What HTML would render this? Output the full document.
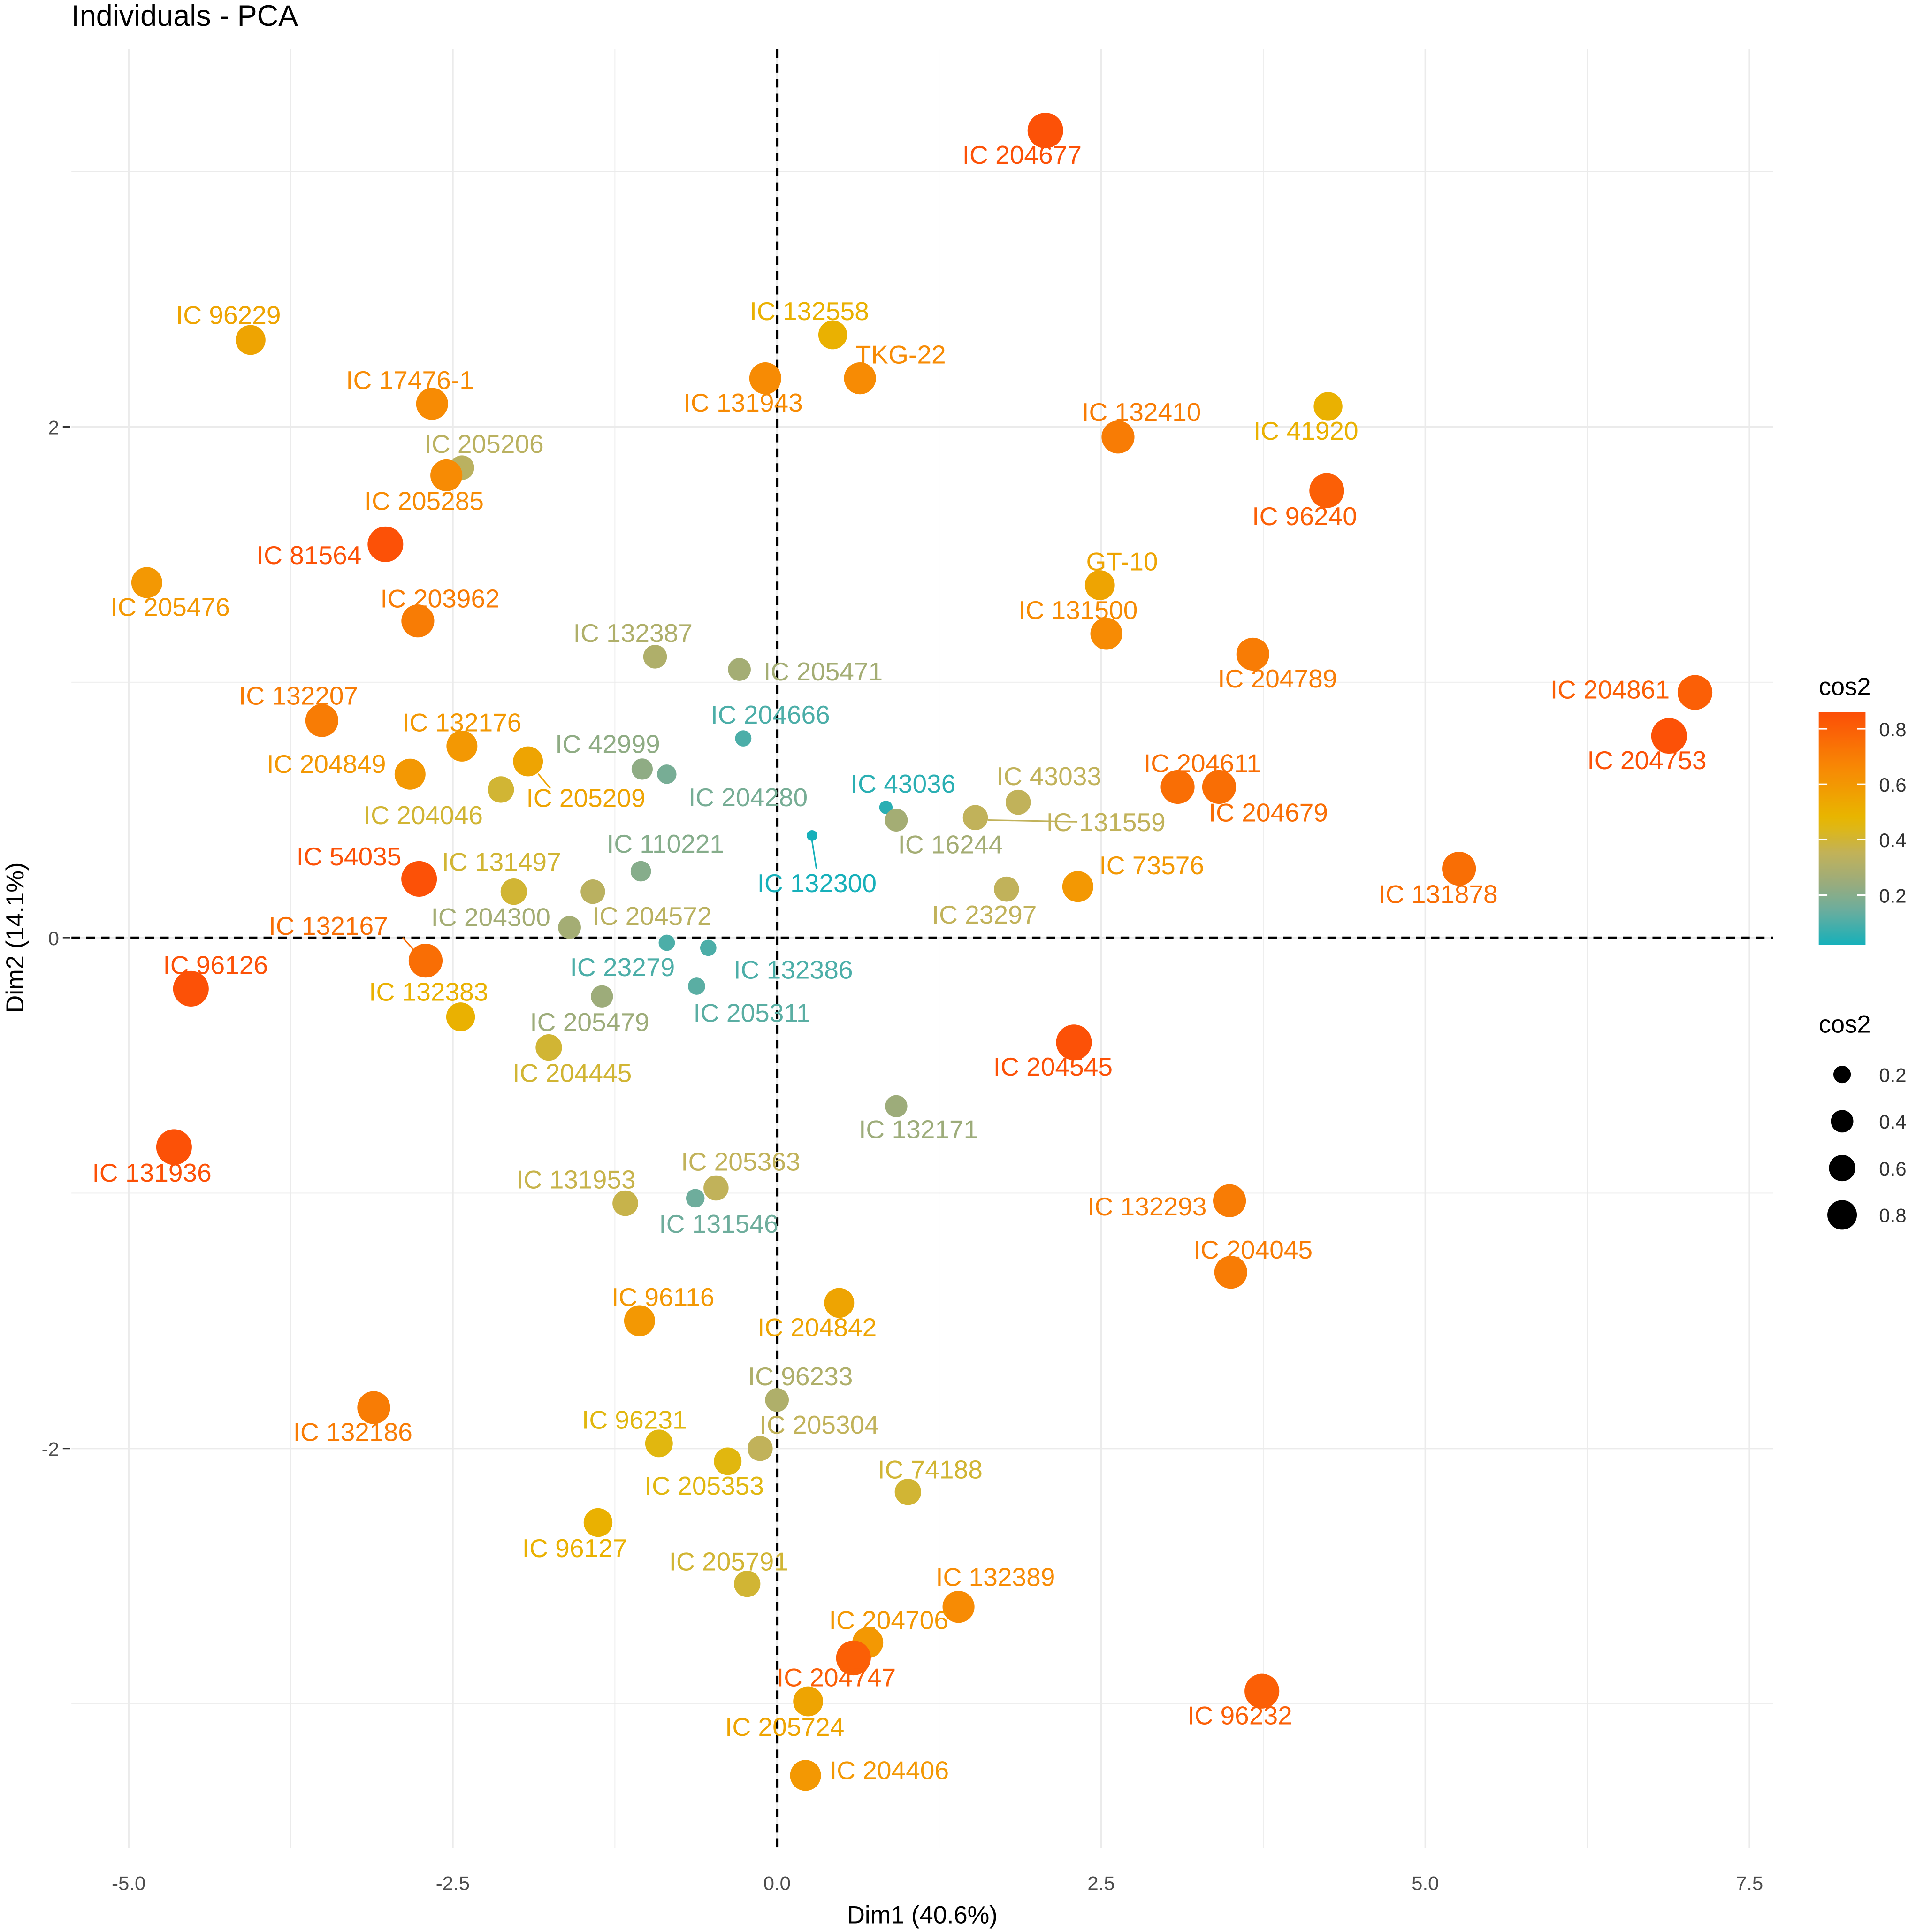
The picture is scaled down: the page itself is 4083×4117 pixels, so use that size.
<!DOCTYPE html>
<html><head><meta charset="utf-8"><style>
html,body{margin:0;padding:0;background:#fff;}
svg{display:block;font-family:"Liberation Sans",Arial,sans-serif;}
</style></head><body>
<svg id="chart" width="4083" height="4117" viewBox="0 0 1556 1568" preserveAspectRatio="none" xmlns="http://www.w3.org/2000/svg">
<rect x="0" y="0" width="1556" height="1568" fill="#fff"/>
<g id="grid"></g>
<g id="axes"></g>
<g id="marks"></g>
<text x="58" y="21" font-size="24" fill="#000">Individuals - PCA</text>
<text x="749" y="1561" font-size="20" text-anchor="middle" fill="#000">Dim1 (40.6%)</text>
<text x="0" y="0" font-size="20" text-anchor="middle" fill="#000" transform="translate(19,761) rotate(-90)">Dim2 (14.1%)</text>
<g id="legend"></g>
</svg>
<script>
const labels=["IC 204677","IC 96229","IC 132558","TKG-22","IC 131943","IC 17476-1","IC 41920","IC 132410","IC 205206","IC 205285","IC 96240","IC 81564","IC 205476","GT-10","IC 203962","IC 131500","IC 132387","IC 204789","IC 205471","IC 204861","IC 204753","IC 132207","IC 204666","IC 132176","IC 204849","IC 205209","IC 42999","IC 204280","IC 204046","IC 204611","IC 204679","IC 43036","IC 43033","IC 16244","IC 131559","IC 132300","IC 110221","IC 54035","IC 131497","IC 73576","IC 23297","IC 204572","IC 204300","IC 132167","IC 96126","IC 23279","IC 132386","IC 205311","IC 132383","IC 205479","IC 204445","IC 204545","IC 132171","IC 131936","IC 205363","IC 131953","IC 131546","IC 132293","IC 204045","IC 96116","IC 204842","IC 132186","IC 96233","IC 96231","IC 205304","IC 205353","IC 74188","IC 96127","IC 205791","IC 132389","IC 204706","IC 204747","IC 96232","IC 205724","IC 204406","IC 131878"];
const dim1=[2.07,-4.06,0.43,0.64,-0.09,-2.66,4.25,2.63,-2.43,-2.55,4.24,-3.02,-4.86,2.49,-2.77,2.54,-0.94,3.67,-0.29,7.08,6.88,-3.51,-0.26,-2.43,-2.83,-1.92,-1.04,-0.85,-2.13,3.09,3.41,0.84,1.86,0.92,1.53,0.27,-1.05,-2.76,-2.03,2.32,1.77,-1.42,-1.60,-2.71,-4.52,-0.85,-0.53,-0.62,-2.44,-1.35,-1.76,2.29,0.92,-4.65,-0.47,-1.17,-0.63,3.49,3.50,-1.06,0.48,-3.11,0.0,-0.91,-0.13,-0.38,1.01,-1.38,-0.23,1.40,0.70,0.59,3.74,0.24,0.22,5.26];
const dim2=[3.16,2.34,2.36,2.19,2.19,2.09,2.08,1.96,1.84,1.81,1.75,1.54,1.39,1.38,1.24,1.19,1.10,1.11,1.05,0.96,0.79,0.85,0.78,0.75,0.64,0.69,0.66,0.64,0.58,0.59,0.59,0.51,0.53,0.46,0.47,0.40,0.26,0.23,0.18,0.20,0.19,0.18,0.04,-0.09,-0.20,-0.02,-0.04,-0.19,-0.31,-0.23,-0.43,-0.41,-0.66,-0.82,-0.98,-1.04,-1.02,-1.03,-1.31,-1.50,-1.43,-1.84,-1.81,-1.98,-2.0,-2.05,-2.17,-2.29,-2.53,-2.62,-2.76,-2.82,-2.95,-2.99,-3.28,0.27];
const cos2=[0.85,0.55,0.5,0.65,0.65,0.65,0.5,0.7,0.33,0.65,0.8,0.85,0.6,0.55,0.7,0.65,0.3,0.7,0.27,0.8,0.85,0.7,0.1,0.6,0.6,0.55,0.22,0.17,0.4,0.75,0.75,0.05,0.35,0.27,0.35,0.02,0.2,0.85,0.4,0.6,0.35,0.33,0.27,0.75,0.85,0.1,0.1,0.12,0.5,0.25,0.4,0.85,0.25,0.85,0.35,0.37,0.15,0.7,0.7,0.6,0.55,0.7,0.3,0.45,0.35,0.45,0.4,0.5,0.4,0.65,0.6,0.8,0.8,0.55,0.6,0.75];
const labelDx=[-19,-18,-19,33,-18,-18,-18,19,18,-18,-18,-62,19,18,18,-23,-18,20,68,-69,-18,-19,22,0,-68,47,-28,66,-63,20,40,14,25,44,106,4,20,-57,-10,60,-18,48,-64,-79,20,-36,69,45,-26,-10,19,-17,18,-18,20,-40,19,-67,18,19,-18,-17,19,-20,48,-19,18,-19,-15,30,17,-14,-18,-19,68,-17];
const labelDy=[20,-20,-19,-19,20,-19,20,-20,-19,21,21,9,20,-19,-18,-19,-19,20,2,-2,20,-20,-19,-19,-8,30,-20,19,21,-19,21,-19,-21,20,4,39,-22,-18,-24,-17,21,20,-8,-28,-19,20,18,22,-20,21,21,20,19,21,-21,-19,21,5,-18,-19,20,20,-19,-19,-19,20,-18,21,-18,-24,-18,16,20,21,-4,21];

const X0=631,XU=105.3,Y0=761,YU=207.3;
const sx=v=>X0+v*XU, sy=v=>Y0-v*YU;
const NS="http://www.w3.org/2000/svg";
function mk(tag,attrs,parent){const e=document.createElementNS(NS,tag);for(const k in attrs)e.setAttribute(k,attrs[k]);parent.appendChild(e);return e;}
const stopV=[0.02,0.15,0.25,0.35,0.47,0.65,0.86];
const stopC=[[22,176,186],[110,173,156],[157,172,122],[193,178,90],[231,184,0],[247,139,4],[252,78,7]];
const cmin=0.02,cmax=0.86;
function col(c){c=Math.max(cmin,Math.min(cmax,c));let i=0;while(i<stopV.length-2&&c>stopV[i+1])i++;const t=(c-stopV[i])/(stopV[i+1]-stopV[i]);const a=stopC[i],b=stopC[i+1];return `rgb(${a.map((v,k)=>Math.round(v+(b[k]-v)*t)).join(',')})`;}
const rad=c=>2.5+13*Math.sqrt(c);

const grid=document.getElementById('grid');
for(let v=-5;v<=7.5;v+=1.25){const l=mk('line',{x1:sx(v),x2:sx(v),y1:40,y2:1500,stroke:'#ebebeb','stroke-width':(Math.round(v/1.25)%2===0)?1.3:0.7},grid);

}
for(let v=-3;v<=3;v+=1){const l=mk('line',{x1:58,x2:1440,y1:sy(v),y2:sy(v),stroke:'#ebebeb','stroke-width':(v%2===0)?1.3:0.7},grid);

}
const axes=document.getElementById('axes');
const xt=[-5,-2.5,0,2.5,5,7.5],xtl=["-5.0","-2.5","0.0","2.5","5.0","7.5"];
xt.forEach((v,i)=>{const t=mk('text',{x:sx(v),y:1534,'font-size':16,'text-anchor':'middle',fill:'#4d4d4d'},axes);t.textContent=xtl[i];

});
const yt=[2,0,-2],ytl=["2","0","-2"];
yt.forEach((v,i)=>{const t=mk('text',{x:48,y:sy(v)+6,'font-size':16,'text-anchor':'end',fill:'#4d4d4d'},axes);t.textContent=ytl[i];


const tk=mk('line',{x1:51,x2:57,y1:sy(v),y2:sy(v),stroke:'#333','stroke-width':1.2},axes);

});
const vl=mk('line',{x1:sx(0),x2:sx(0),y1:40,y2:1500,stroke:'#000','stroke-width':1.8,'stroke-dasharray':'7,5'},axes);


const hl=mk('line',{x1:58,x2:1440,y1:sy(0),y2:sy(0),stroke:'#000','stroke-width':1.8,'stroke-dasharray':'7,5'},axes);



const marks=document.getElementById('marks');
const leaders={34:[sx(1.53)+10,sy(0.47)+2,875,667],35:[sx(0.27),sy(0.40)+4,663,705],43:[327,761,336,771],25:[437,628,447,640]};
labels.forEach((lab,i)=>{const px=sx(dim1[i]),py=sy(dim2[i]),c=col(cos2[i]);
if(leaders[i]){const L=leaders[i];const ll=mk('line',{x1:L[0],y1:L[1],x2:L[2],y2:L[3],stroke:c,'stroke-width':1.2},marks);

}
const p=mk('circle',{cx:px,cy:py,r:rad(cos2[i]),fill:c},marks);


const t=mk('text',{x:px+labelDx[i],y:py+labelDy[i]+7,'font-size':21,'text-anchor':'middle',fill:c},marks);t.textContent=lab;

});

const lg=document.getElementById('legend');
const defs=mk('defs',{},lg);const gr=mk('linearGradient',{id:'cg',x1:0,y1:1,x2:0,y2:0},defs);
for(let f=0;f<=1.0001;f+=0.05){mk('stop',{offset:f,'stop-color':col(cmin+f*(cmax-cmin))},gr);}
const lt=mk('text',{x:1477,y:564,'font-size':20,fill:'#000'},lg);lt.textContent='cos2';


const bar=mk('rect',{x:1477,y:578,width:38,height:189,fill:'url(#cg)'},lg);


const lvals=[0.2,0.4,0.6,0.8],lvl=["0.2","0.4","0.6","0.8"];
const ly=v=>767-(v-cmin)/(cmax-cmin)*189;
lvals.forEach((v,i)=>{mk('line',{x1:1477,x2:1484,y1:ly(v),y2:ly(v),stroke:'#fff','stroke-width':1.2},lg);mk('line',{x1:1508,x2:1515,y1:ly(v),y2:ly(v),stroke:'#fff','stroke-width':1.2},lg);
const t=mk('text',{x:1526,y:ly(v)+6,'font-size':16,fill:'#333'},lg);t.textContent=lvl[i];

});
const st=mk('text',{x:1477,y:838,'font-size':20,fill:'#000'},lg);st.textContent='cos2';


lvals.forEach((v,i)=>{const cy=872+i*38;const d=mk('circle',{cx:1496,cy:cy,r:rad(v)*0.85,fill:'#000'},lg);


const t=mk('text',{x:1526,y:cy+6,'font-size':16,fill:'#333'},lg);t.textContent=lvl[i];

});
</script>
</body></html>
